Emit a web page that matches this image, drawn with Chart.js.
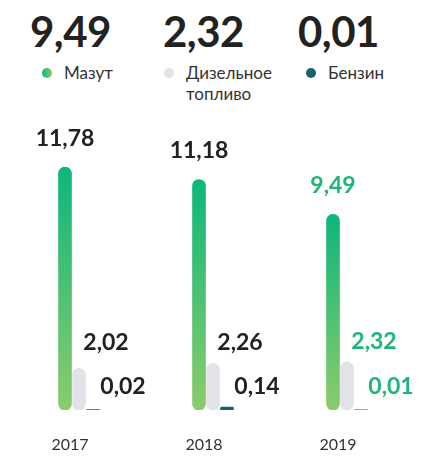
<!DOCTYPE html>
<html lang="ru">
<head>
<meta charset="utf-8">
<script src="https://cdn.jsdelivr.net/npm/chart.js@4.4.1/dist/chart.umd.min.js"></script>
<style>
    html, body { margin: 0; padding: 0; background: #ffffff; }
    .wrap { position: relative; width: 434px; height: 456px; font-family: 'Lato', sans-serif; color: #222; }
    .totals { position: absolute; top: 0; left: 0; width: 100%; height: 110px; }
    .total { position: absolute; top: 10px; font-size: 42px; font-weight: 700; line-height: 42px; letter-spacing: -0.5px; }
    .leg { position: absolute; top: 62px; font-size: 17px; line-height: 21px; color: #333; }
    .leg i { position: absolute; left: -22px; top: 6px; width: 10px; height: 10px; border-radius: 50%; }
    #chartBox { position: absolute; left: 0; top: 110px; width: 434px; height: 346px; }
</style>
</head>
<body>
<div class="wrap">
    <div class="totals" id="totals"></div>
    <div id="chartBox"><canvas id="graficaCombustible"></canvas></div>
</div>
<script>
// Годы и объёмы потребления топлива
const years = ['2017', '2018', '2019'];
const mazut = [11.78, 11.18, 9.49];
const dizel = [2.02, 2.26, 2.32];
const benzin = [0.02, 0.14, 0.01];
const fuelNames = ['Мазут', 'Дизельное<br>топливо', 'Бензин'];
const highlightYear = '2019';

const GREEN_TOP = '#0cb77b';
const GREEN_BOTTOM = '#8ccb6c';
const GREY = '#e2e3e9';
const TEAL = '#17606c';
const DARK = '#222222';

const fmt = v => v.toFixed(2).replace('.', ',');

// Шапка: итоги за последний год + легенда
const totalsEl = document.getElementById('totals');
const lastIdx = years.length - 1;
const heads = [
    { value: mazut[lastIdx], x: 30, legX: 64, dot: 'linear-gradient(90deg,' + GREEN_TOP + ',' + GREEN_BOTTOM + ')' },
    { value: dizel[lastIdx], x: 163, legX: 186, dot: GREY },
    { value: benzin[lastIdx], x: 298, legX: 328, dot: TEAL }
];
heads.forEach((h, i) => {
    const t = document.createElement('div');
    t.className = 'total';
    t.style.left = h.x + 'px';
    t.textContent = fmt(h.value);
    totalsEl.appendChild(t);
    const l = document.createElement('div');
    l.className = 'leg';
    l.style.left = h.legX + 'px';
    l.innerHTML = '<i style="background:' + h.dot + '"></i>' + fuelNames[i];
    totalsEl.appendChild(l);
});

// Градиент для каждого столбца мазута: от низа области до вершины столбца
function mazutGradient(context) {
    const chart = context.chart;
    const area = chart.chartArea;
    if (!area || context.dataIndex === undefined) return GREEN_TOP;
    const top = chart.scales.y.getPixelForValue(context.raw);
    const g = chart.ctx.createLinearGradient(0, area.bottom, 0, top);
    g.addColorStop(0, GREEN_BOTTOM);
    g.addColorStop(1, GREEN_TOP);
    return g;
}

// Подписи значений над столбцами
const valueLabels = {
    id: 'valueLabels',
    afterDatasetsDraw(chart) {
        const ctx = chart.ctx;
        const base = chart.chartArea.bottom;
        ctx.save();
        ctx.font = "700 23px 'Lato', sans-serif";
        ctx.textAlign = 'center';
        ctx.textBaseline = 'middle';
        years.forEach((year, i) => {
            ctx.fillStyle = year === highlightYear ? '#1db677' : DARK;
            const m = chart.getDatasetMeta(0).data[i];
            const d = chart.getDatasetMeta(1).data[i];
            const b = chart.getDatasetMeta(2).data[i];
            ctx.fillText(fmt(mazut[i]), m.x, m.y - 29);
            ctx.fillText(fmt(dizel[i]), d.x + 27, Math.min(d.y - 21, base - 67));
            ctx.fillText(fmt(benzin[i]), b.x + 30, base - 23);
        });
        ctx.restore();
    }
};

const barCommon = {
    barThickness: 14,
    maxBarThickness: 13,
    borderRadius: 7,
    borderSkipped: false
};

new Chart(document.getElementById('graficaCombustible').getContext('2d'), {
    type: 'bar',
    data: {
        labels: years,
        datasets: [
            Object.assign({ label: 'Мазут', data: mazut, backgroundColor: mazutGradient }, barCommon),
            Object.assign({ label: 'Дизельное топливо', data: dizel, backgroundColor: GREY }, barCommon),
            Object.assign({ label: 'Бензин', data: benzin, backgroundColor: TEAL }, barCommon)
        ]
    },
    options: {
        responsive: true,
        maintainAspectRatio: false,
        animation: false,
        layout: { padding: { left: 12, right: 20, top: 32, bottom: 0 } },
        scales: {
            y: { display: false, min: 0, max: 13 },
            x: {
                grid: { display: false },
                border: { display: false },
                // ось занимает ровно 46px снизу
                afterFit(scale) { scale.height = 46; },
                ticks: {
                    color: '#333',
                    font: { family: "'Lato', sans-serif", size: 16 },
                    padding: 17,
                    labelOffset: -9
                }
            }
        },
        plugins: {
            legend: { display: false },
            tooltip: { enabled: false }
        }
    },
    plugins: [valueLabels]
});
</script>
</body>
</html>
